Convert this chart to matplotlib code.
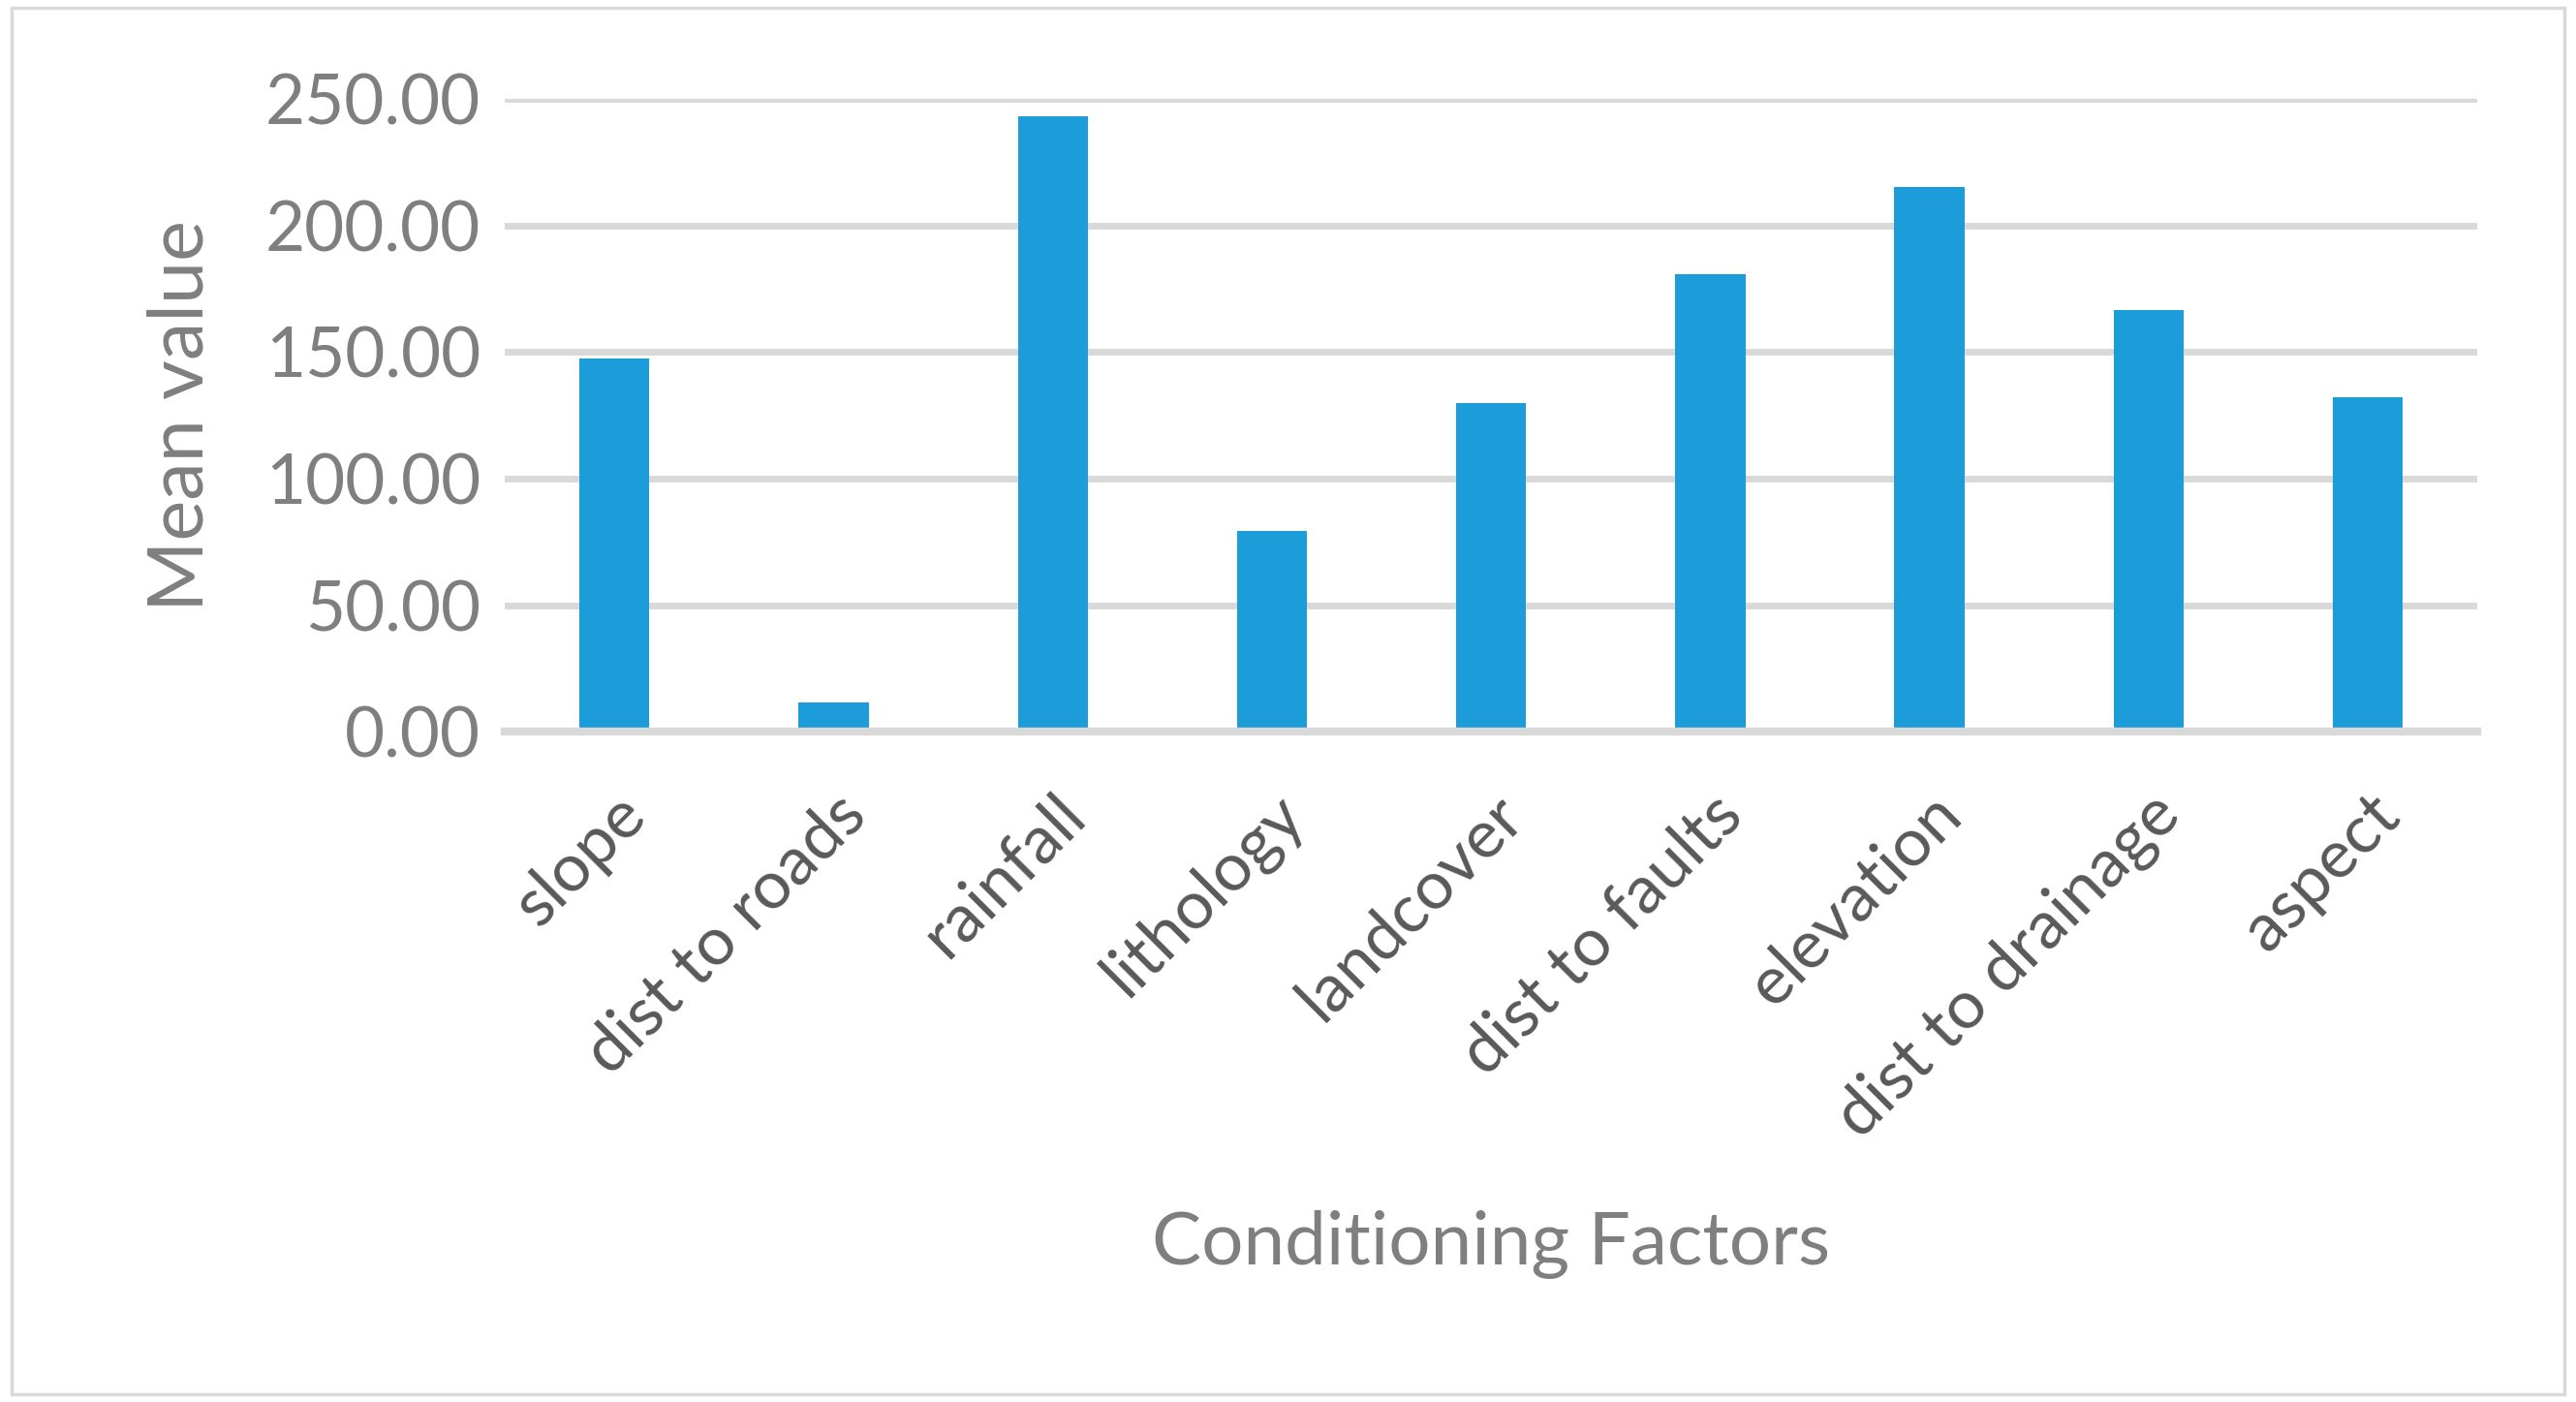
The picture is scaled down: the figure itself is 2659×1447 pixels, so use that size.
import matplotlib.pyplot as plt
from matplotlib.patches import Rectangle

# data
factors = ["slope", "dist to roads", "rainfall", "lithology", "landcover",
           "dist to faults", "elevation", "dist to drainage", "aspect"]
mean_values = [147.5, 11.5, 243.0, 79.3, 130.0, 180.6, 215.2, 166.7, 132.0]
y_ticks = [0, 50, 100, 150, 200, 250]

plt.rcParams['font.family'] = ['Lato', 'DejaVu Sans']

fig = plt.figure(figsize=(26.59, 14.47), dpi=100)
ax = fig.add_axes([0.196, 0.478, 0.7657, 0.4515])

x = list(range(len(factors)))
ax.bar(x, mean_values, width=0.32, color="#1C9CD8", zorder=3)

ax.set_xlim(-0.5, len(factors) - 0.5)
ax.set_ylim(0, 250)
ax.set_yticks(y_ticks)
ax.set_yticklabels([f"{v:.2f}" for v in y_ticks])
ax.set_xticks(x)
ax.set_xticklabels(factors, rotation=45, ha="right", va="top",
                   rotation_mode="anchor")

# grid and axis look
ax.grid(axis="y", color="#d9d9d9", linewidth=5, zorder=0)
ax.set_axisbelow(True)
for s in ["top", "right", "left"]:
    ax.spines[s].set_visible(False)
ax.spines["bottom"].set_color("#d9d9d9")
ax.spines["bottom"].set_linewidth(6)
ax.spines["bottom"].set_zorder(4)
ax.tick_params(axis="both", length=0)
ax.tick_params(axis="y", labelsize=51, labelcolor="#7f7f7f", pad=18)
ax.tick_params(axis="x", labelsize=50, labelcolor="#595959", pad=38)

ax.set_ylabel("Mean value", fontsize=57, color="#7f7f7f", labelpad=36)
ax.set_xlabel("Conditioning Factors", fontsize=55, color="#7f7f7f", labelpad=45)

# outer chart border
fig.patches.append(Rectangle((0.0045, 0.0055), 0.991, 0.989, transform=fig.transFigure,
                             fill=False, edgecolor="#d9d9d9", linewidth=2.5))

fig.savefig("out.png", dpi=100)
